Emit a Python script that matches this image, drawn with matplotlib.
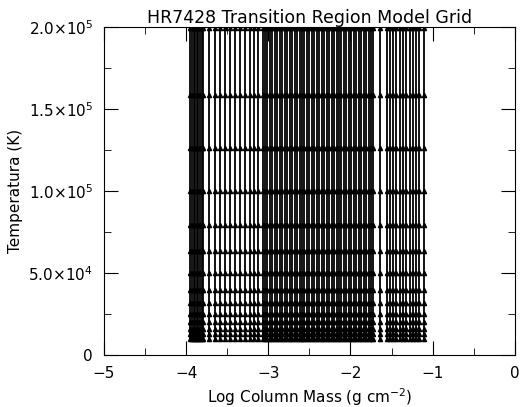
import matplotlib
matplotlib.use("Agg")
import matplotlib.pyplot as plt
from matplotlib.ticker import MultipleLocator, FuncFormatter

log_mass = [-3.95,-3.93,-3.91,-3.89,-3.87,-3.85,-3.83,-3.81,-3.79,
            -3.72,-3.65,-3.59,-3.53,-3.47,-3.41,-3.35,-3.28,-3.22,-3.18,-3.13,
            -3.07,-3.04,-3.01,-2.98,-2.95,-2.92,-2.89,-2.86,-2.83,-2.80,-2.77,-2.74,
            -2.71,-2.68,-2.65,-2.62,-2.59,-2.56,-2.53,-2.50,-2.47,-2.44,-2.41,-2.38,
            -2.35,-2.32,-2.29,-2.26,-2.23,-2.20,-2.17,-2.14,-2.11,-2.08,-2.05,-2.02,
            -1.99,-1.96,-1.93,-1.90,-1.87,-1.84,-1.81,-1.78,-1.75,-1.73,
            -1.64,
            -1.56,-1.52,-1.48,-1.44,-1.40,-1.36,-1.32,-1.28,-1.24,-1.20,-1.16,-1.10]
temps = [10000, 12589, 15849, 19953, 25119, 31623, 39811, 50119, 63096,
         79433, 100000, 125893, 158489, 199526]

fig = plt.figure(figsize=(5.2, 4.07), dpi=100)
ax = fig.add_axes([0.2, 0.128, 0.79, 0.806])
for x in log_mass:
    ax.plot([x]*len(temps), temps, color='black', lw=1.3, marker='^', ms=3)
ax.set_xlim(-5, 0)
ax.set_ylim(0, 2.0e5)
ax.xaxis.set_major_locator(MultipleLocator(1))
ax.xaxis.set_minor_locator(MultipleLocator(0.5))
ax.yaxis.set_major_locator(MultipleLocator(5e4))
ax.yaxis.set_minor_locator(MultipleLocator(2.5e4))

def yfmt(v, pos):
    if v == 0:
        return '0'
    e = 5 if v >= 1e5 else 4
    return r'%.1f$\times$10$^{%d}$' % (v / 10**e, e)
ax.yaxis.set_major_formatter(FuncFormatter(yfmt))
ax.xaxis.set_major_formatter(FuncFormatter(lambda v, p: ('%d' % v).replace('-', '\u2212')))
ax.tick_params(which='both', direction='in', top=True, right=True, labelsize=11, pad=8)
ax.tick_params(which='major', length=10)
ax.tick_params(which='minor', length=5)
ax.set_xlabel('Log Column Mass (g cm$^{-2}$)', fontsize=11)
ax.set_ylabel('Temperatura (K)', fontsize=11)
ax.set_title('HR7428 Transition Region Model Grid', fontsize=12.5, pad=3)
fig.savefig('out.png', dpi=100)
